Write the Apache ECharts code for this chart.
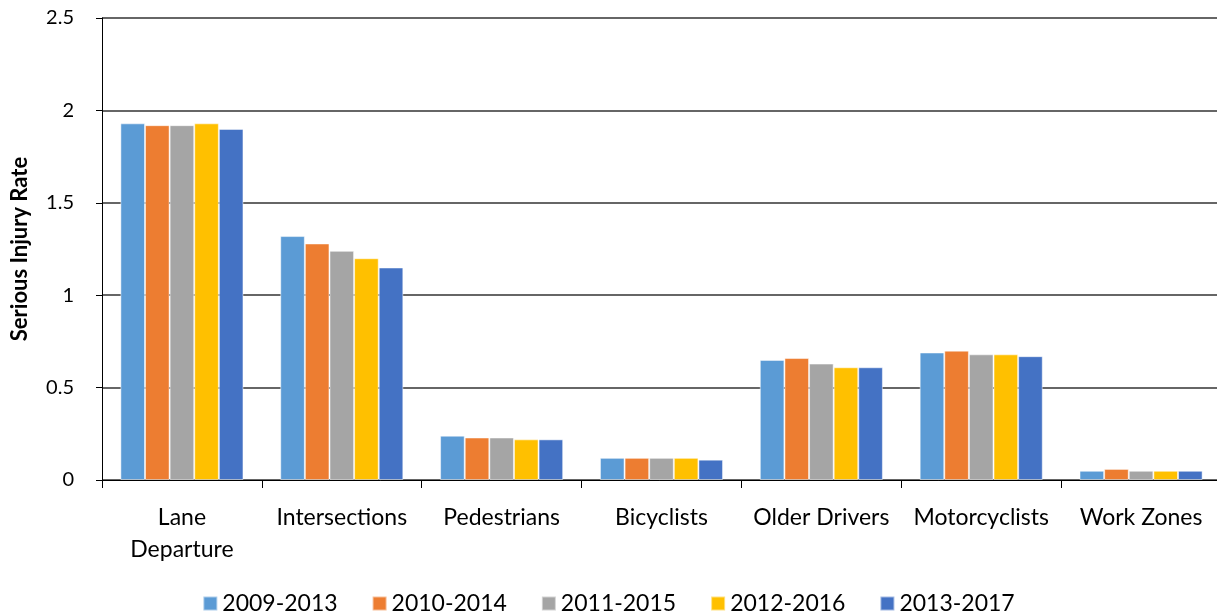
<!DOCTYPE html>
<html>
<head>
<meta charset="utf-8">
<title>Serious Injury Rate</title>
<script src="https://cdn.jsdelivr.net/npm/echarts@6/dist/echarts.min.js"></script>
<style>
  html, body { margin: 0; padding: 0; background: #fff; }
  #chart { width: 1217px; height: 615px; }
</style>
</head>
<body>
<div id="chart"></div>
<script>
const categories = ['Lane\nDeparture', 'Intersections', 'Pedestrians', 'Bicyclists', 'Older Drivers', 'Motorcyclists', 'Work Zones']
const seriesNames = ['2009-2013', '2010-2014', '2011-2015', '2012-2016', '2013-2017']
const rate0913 = [1.93, 1.32, 0.24, 0.12, 0.65, 0.69, 0.05]
const rate1014 = [1.92, 1.28, 0.23, 0.12, 0.66, 0.70, 0.06]
const rate1115 = [1.92, 1.24, 0.23, 0.12, 0.63, 0.68, 0.05]
const rate1216 = [1.93, 1.20, 0.22, 0.12, 0.61, 0.68, 0.05]
const rate1317 = [1.90, 1.15, 0.22, 0.11, 0.61, 0.67, 0.05]
const yTicks = ['0', '0.5', '1', '1.5', '2', '2.5']

const colors = ['#5B9BD5', '#ED7D31', '#A5A5A5', '#FFC000', '#4472C4']
const allData = [rate0913, rate1014, rate1115, rate1216, rate1317]
const font = 'Lato, "Open Sans", sans-serif'

const chart = echarts.init(document.getElementById('chart'))

chart.setOption({
  animation: false,
  textStyle: { fontFamily: font },
  grid: { left: 102, top: 18, right: -4, bottom: 135, containLabel: false, outerBoundsMode: 'none' },
  legend: {
    bottom: -5,
    left: 'center',
    itemWidth: 14,
    itemHeight: 14,
    itemGap: 34,
    icon: 'rect',
    textStyle: { fontSize: 23, color: '#000', fontFamily: font },
    data: seriesNames
  },
  xAxis: {
    type: 'category',
    data: categories,
    axisLine: { lineStyle: { color: '#000', width: 1 } },
    axisTick: { show: true, length: 8, lineStyle: { color: '#000' } },
    axisLabel: { color: '#000', fontSize: 23, margin: 22, lineHeight: 32, interval: 0 }
  },
  yAxis: {
    type: 'value',
    min: 0,
    max: 2.5,
    interval: 0.5,
    name: 'Serious Injury Rate',
    nameLocation: 'middle',
    nameGap: 71,
    nameTextStyle: { fontSize: 22, fontWeight: 'bold', color: '#000' },
    axisLine: { show: true, lineStyle: { color: '#000' } },
    axisTick: { show: true, length: 6, lineStyle: { color: '#000' } },
    axisLabel: {
      color: '#000', fontSize: 20, margin: 28,
      formatter: v => yTicks.find(t => Number(t) === v) || String(v)
    },
    splitLine: { lineStyle: { color: '#333', width: 1.5 } }
  },
  series: seriesNames.map((name, i) => ({
    name,
    type: 'bar',
    data: allData[i],
    barGap: '0%',
    barCategoryGap: '23%',
    itemStyle: { color: colors[i], borderColor: 'rgba(255,255,255,0.5)', borderWidth: 1 }
  }))
})
</script>
</body>
</html>
